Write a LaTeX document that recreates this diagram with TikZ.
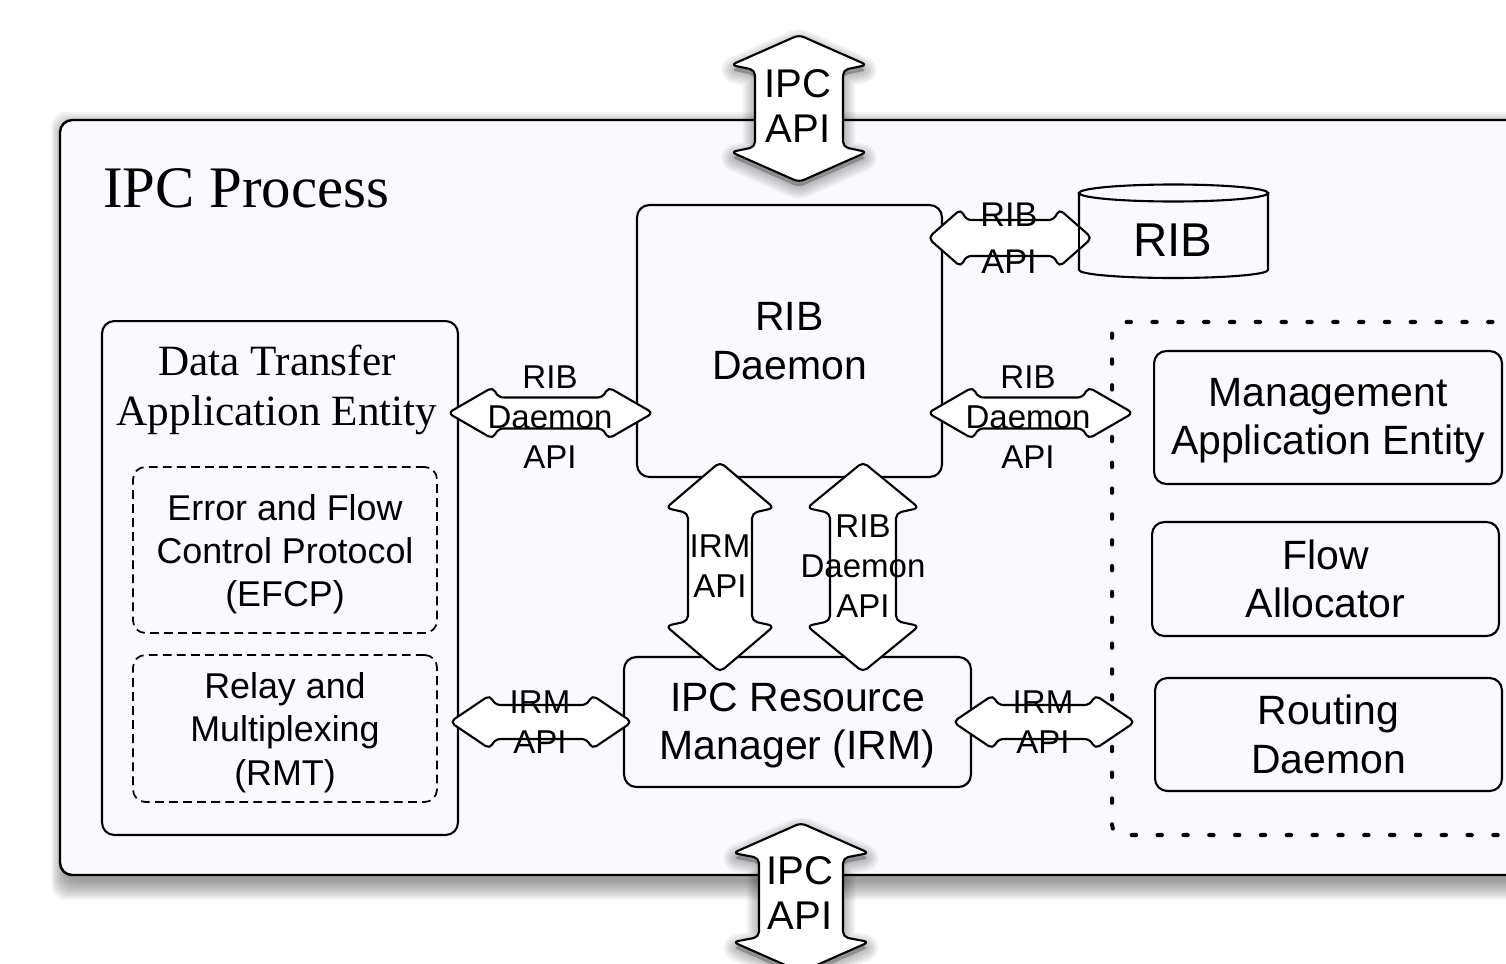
\documentclass[tikz,border=0pt]{standalone}
\usepackage{fontspec}
\setmainfont{Liberation Serif}
\setsansfont{Liberation Sans}
\usetikzlibrary{calc}
\definecolor{panel}{HTML}{FAF9FE}
\newcommand\fs[2]{\fontsize{#1pt}{#2pt}\selectfont}

\tikzset{
  box/.style={draw, line width=1.2pt, rounded corners=7pt, inner sep=0pt,
              align=center, font=\sffamily\fs{23.3}{27.5}},
  dbox/.style={box, line width=1pt, dash pattern=on 5pt off 3pt,
               font=\sffamily\fs{20.4}{24.6}},
  boxtext/.style={align=center, inner sep=0pt, font=\sffamily\fs{23.3}{27.5}},
  dboxtext/.style={align=center, inner sep=0pt, font=\sffamily\fs{20.4}{24.6}},
  barrow/.style={draw, fill=white, line width=1.2pt, rounded corners=3pt, line join=round},
  lbl/.style={align=center, inner sep=0pt, font=\sffamily\fs{18.8}{22.7}},
  biglbl/.style={align=center, inner sep=0pt, font=\sffamily\fs{22.8}{25.5}},
}

% horizontal double block arrow: [opts]{left tip}{right tip}{shaft half width}{head half width}{head length}
\newcommand\hdarr[6][]{%
  \draw[barrow,#1] (#2) -- ($(#2)+(#6,-#5)$) -- ($(#2)+(#6+5,-#4)$)
    -- ($(#3)+(-#6-5,-#4)$) -- ($(#3)+(-#6,-#5)$) -- (#3)
    -- ($(#3)+(-#6,#5)$) -- ($(#3)+(-#6-5,#4)$)
    -- ($(#2)+(#6+5,#4)$) -- ($(#2)+(#6,#5)$) -- cycle;}
% vertical double block arrow: [opts]{top tip}{bottom tip}{shaft half width}{head half width}{head length}
\newcommand\vdarr[6][]{%
  \draw[barrow,#1] (#2) -- ($(#2)+(#5,#6)$) -- ($(#2)+(#4,#6+5)$)
    -- ($(#3)+(#4,-#6-5)$) -- ($(#3)+(#5,-#6)$) -- (#3)
    -- ($(#3)+(-#5,-#6)$) -- ($(#3)+(-#4,-#6-5)$)
    -- ($(#2)+(-#4,#6+5)$) -- ($(#2)+(-#5,#6)$) -- cycle;}

\begin{document}
\begin{tikzpicture}[x=0.02cm,y=-0.02cm]
\clip (0,0) rectangle (1506,963);
\fill[white] (0,0) rectangle (1506,963);

% soft shadow of the process frame
\foreach \s in {0,2,...,18}
  \fill[black,opacity=0.045,rounded corners=8pt] (64-0.7*\s,130-\s) rectangle (1580,882+\s);
\draw[fill=panel, line width=1.4pt, rounded corners=7pt] (60,120) rectangle (1570,875);
\node[anchor=base west, inner sep=0pt, font=\fs{33.5}{40}] (title) at (103,207) {IPC Process};

% data transfer side
\node[box, minimum width=7.12cm, minimum height=10.28cm] (dtae) at (280,578) {};
\node[align=center, inner sep=0pt, font=\fs{24.6}{28.3}] (dtaeLabel) at (277,390) {Data Transfer\\Application Entity};
\node[dbox, minimum width=6.08cm, minimum height=3.32cm] (efcp) at (285,550) {};
\node[dboxtext] (efcpText) at ($(efcp.center)+(0,4)$) {Error and Flow\\Control Protocol\\(EFCP)};
\node[dbox, minimum width=6.08cm, minimum height=2.94cm] (rmt) at (285,728.5) {};
\node[dboxtext] (rmtText) at ($(rmt.center)+(0,4)$) {Relay and\\Multiplexing\\(RMT)};

% core
\node[box, minimum width=6.1cm, minimum height=5.44cm] (ribd) at (789.5,341) {RIB\\Daemon};
\node[box, minimum width=6.94cm, minimum height=2.6cm] (irm) at (797.5,722) {};
\node[boxtext] (irmText) at ($(irm.center)+(0,3.5)$) {IPC Resource\\Manager (IRM)};

% layer management group
\draw[line width=2.3pt, line cap=round, dash pattern=on 2.5pt off 12.2pt, rounded corners=6pt]
  (1570,322) -- (1112,322) -- (1112,835) -- (1570,835);
\node[box, minimum width=6.96cm, minimum height=2.66cm] (mae) at (1328,417.5) {};
\node[boxtext] (maeText) at ($(mae.center)+(0,3)$) {Management\\Application Entity};
\node[box, minimum width=6.94cm, minimum height=2.28cm] (fa) at (1325.5,579) {Flow\\Allocator};
\node[box, minimum width=6.94cm, minimum height=2.26cm] (rd) at (1328.5,734.5) {Routing\\Daemon};

% RIB store
\draw[line width=1.2pt, fill=panel] (1079,193) -- (1079,270)
  arc[start angle=180, end angle=360, x radius=1.89cm, y radius=0.16cm] -- (1268,193) -- cycle;
\draw[line width=1.2pt, fill=panel] (1173.5,193) ellipse[x radius=1.89cm, y radius=0.17cm];
\node[font=\sffamily\fs{27}{30}, inner sep=0pt] (rib) at (1173,240) {RIB};

% arrow end points
\coordinate (ipcTa) at (799,35);   \coordinate (ipcTb) at (799,182);
\coordinate (ipcBa) at (801,823);  \coordinate (ipcBb) at (801,972);
\coordinate (irmVa) at (720,462);  \coordinate (irmVb) at (720,672);
\coordinate (ribVa) at (863,462);  \coordinate (ribVb) at (863,672);
\coordinate (ribdLa) at (448,413); \coordinate (ribdLb) at (653,413);
\coordinate (ribdRa) at (928,413); \coordinate (ribdRb) at (1133,413);
\coordinate (ribApiA) at (928,238);\coordinate (ribApiB) at (1092,238);
\coordinate (irmLa) at (450,722);  \coordinate (irmLb) at (632,722);
\coordinate (irmRa) at (953,722);  \coordinate (irmRb) at (1135,722);

% shadows of the external API arrows
\begin{scope}[transform canvas={yshift=-3pt}]
\foreach \w in {2,4,...,14}{
  \vdarr[draw=black, fill=black, draw opacity=0.04, fill opacity=0.04, line width=\w pt]{ipcTa}{ipcTb}{44}{68}{30}
  \vdarr[draw=black, fill=black, draw opacity=0.04, fill opacity=0.04, line width=\w pt]{ipcBa}{ipcBb}{42}{68}{30}
}
\end{scope}

% block arrows
\vdarr{ipcTa}{ipcTb}{44}{68}{30}
\vdarr{ipcBa}{ipcBb}{42}{68}{30}
\vdarr{irmVa}{irmVb}{32}{54}{46}
\vdarr{ribVa}{ribVb}{33}{56}{46}
\hdarr{ribdLa}{ribdLb}{15.5}{26}{45}
\hdarr{ribdRa}{ribdRb}{15.5}{26}{45}
\hdarr{ribApiA}{ribApiB}{18}{29}{33}
\hdarr{irmLa}{irmLb}{17}{27}{40}
\hdarr{irmRa}{irmRb}{17}{27}{40}
\draw[line width=1.2pt] (1079,193) -- (1079,270);

% arrow labels
\node[biglbl] (ipcTop) at (798,106) {IPC\\API};
\node[biglbl] (ipcBot) at (800,893) {IPC\\API};
\node[lbl] (irmV) at (720,566) {IRM\\API};
\node[lbl] (ribV) at (863,566) {RIB\\Daemon\\API};
\node[lbl] (ribdL) at (550,417) {RIB\\Daemon\\API};
\node[lbl] (ribdR) at (1028,417) {RIB\\Daemon\\API};
\node[align=center, inner sep=0pt, font=\sffamily\fs{19.5}{26.6}] (ribApi) at (1009,238) {RIB\\API};
\node[lbl] (irmL) at (540,722) {IRM\\API};
\node[lbl] (irmR) at (1043,722) {IRM\\API};
\end{tikzpicture}
\end{document}
